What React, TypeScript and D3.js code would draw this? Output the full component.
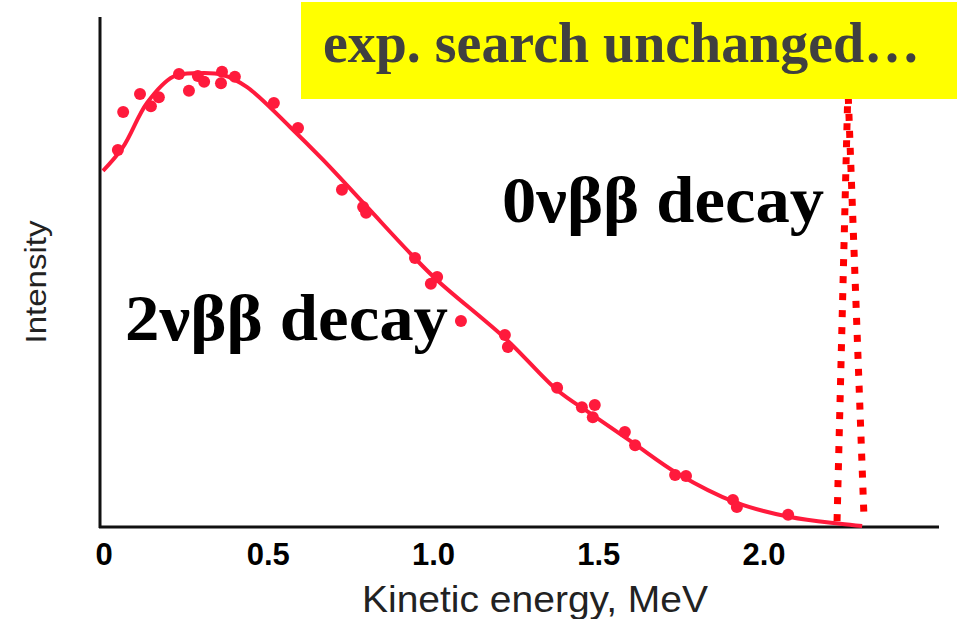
import React from "react";
import * as d3 from "d3";

// Fitted 2νββ spectrum (energy MeV, relative intensity)
const curveE = [0, 0.061, 0.133, 0.212, 0.287, 0.363, 0.436, 0.566, 0.666, 0.799, 0.929, 1.011, 1.222, 1.374, 1.473, 1.604, 1.737, 1.912, 2.079, 2.23, 2.297];
const curveI = [0.788, 0.841, 0.938, 0.996, 1.004, 1.0, 0.973, 0.885, 0.812, 0.708, 0.606, 0.546, 0.414, 0.303, 0.252, 0.186, 0.119, 0.055, 0.022, 0.007, 0.002];

// Measured data points
const dotE = [0.045, 0.061, 0.112, 0.145, 0.169, 0.23, 0.26, 0.287, 0.306, 0.36, 0.357, 0.399, 0.517, 0.59, 0.723, 0.787, 0.796, 0.944, 1.011, 0.992, 1.083, 1.216, 1.225, 1.374, 1.449, 1.488, 1.482, 1.579, 1.61, 1.731, 1.764, 1.906, 1.918, 2.073];
const dotI = [0.834, 0.918, 0.958, 0.931, 0.951, 1.002, 0.965, 0.998, 0.985, 1.007, 0.982, 0.996, 0.938, 0.883, 0.746, 0.708, 0.695, 0.595, 0.553, 0.538, 0.456, 0.425, 0.398, 0.308, 0.265, 0.27, 0.243, 0.21, 0.181, 0.115, 0.113, 0.06, 0.044, 0.027];

// 0νββ peak
const peakE = [2.221, 2.254, 2.303];
const peakI = [0.013, 0.971, 0.013];

const tickValues = [0, 0.5, 1.0, 1.5, 2.0];
const tickLabels = ["0", "0.5", "1.0", "1.5", "2.0"];

const W = 957;
const H = 619;

export default function App() {
  const x = d3.scaleLinear().domain([0, 2]).range([103, 764]);
  const y = d3.scaleLinear().domain([0, 1]).range([527, 75]);

  const line = d3
    .line<[number, number]>()
    .x((d) => x(d[0]))
    .y((d) => y(d[1]))
    .curve(d3.curveCatmullRom.alpha(0.5));
  const lineLin = d3
    .line<[number, number]>()
    .x((d) => x(d[0]))
    .y((d) => y(d[1]));

  const curvePts = curveE.map((e, i) => [e, curveI[i]] as [number, number]);
  const peakPts = peakE.map((e, i) => [e, peakI[i]] as [number, number]);
  const red = "#ff1a3c";

  return (
    <svg
      width={W}
      height={H}
      style={{ position: "absolute", left: 0, top: 0, background: "#fff" }}
    >
      {/* 0νββ peak dotted */}
      <path
        d={lineLin(peakPts) || ""}
        fill="none"
        stroke="#ff0000"
        strokeWidth={7}
        strokeDasharray="7 10"
      />
      {/* axes */}
      <line x1={100} y1={17} x2={100} y2={528} stroke="#111" strokeWidth={3} />
      <line x1={99} y1={527} x2={939} y2={527} stroke="#111" strokeWidth={3} />

      {/* fitted curve */}
      <path d={line(curvePts) || ""} fill="none" stroke={red} strokeWidth={4} />
      {/* data points */}
      {dotE.map((e, i) => (
        <circle key={i} cx={x(e)} cy={y(dotI[i])} r={6} fill={red} />
      ))}

      {/* tick labels */}
      {tickValues.map((t, i) => (
        <text
          key={i}
          x={x(t) + (i === 0 ? 1 : 0)}
          y={565}
          textAnchor="middle"
          fontFamily="Liberation Sans, Arial, sans-serif"
          fontWeight="bold"
          fontSize={31}
          fill="#000"
        >
          {tickLabels[i]}
        </text>
      ))}

      {/* axis titles */}
      <text
        x={535}
        y={612}
        textAnchor="middle"
        fontFamily="Liberation Sans, Arial, sans-serif"
        fontSize={36}
        fill="#222"
        textLength={346}
        lengthAdjust="spacingAndGlyphs"
      >
        Kinetic energy, MeV
      </text>
      <text
        transform="translate(46,282) rotate(-90)"
        textAnchor="middle"
        fontFamily="Liberation Sans, Arial, sans-serif"
        fontSize={29}
        fill="#222"
        textLength={123}
        lengthAdjust="spacingAndGlyphs"
      >
        Intensity
      </text>

      {/* annotations */}
      <text
        x={125}
        y={340}
        fontFamily="Liberation Serif, Times New Roman, serif"
        fontWeight="bold"
        fontSize={66}
        fill="#000"
        textLength={323}
        lengthAdjust="spacingAndGlyphs"
      >
        2νββ decay
      </text>
      <text
        x={502}
        y={222}
        fontFamily="Liberation Serif, Times New Roman, serif"
        fontWeight="bold"
        fontSize={66}
        fill="#000"
        textLength={322}
        lengthAdjust="spacingAndGlyphs"
      >
        0νββ decay
      </text>

      {/* yellow box */}
      <rect x={301} y={2} width={656} height={97} fill="#ffff00" />
      <text
        x={323}
        y={62}
        fontFamily="Liberation Serif, Times New Roman, serif"
        fontWeight="bold"
        fontSize={58}
        fill="#404040"
        textLength={597}
        lengthAdjust="spacingAndGlyphs"
      >
        exp. search unchanged…
      </text>
    </svg>
  );
}
